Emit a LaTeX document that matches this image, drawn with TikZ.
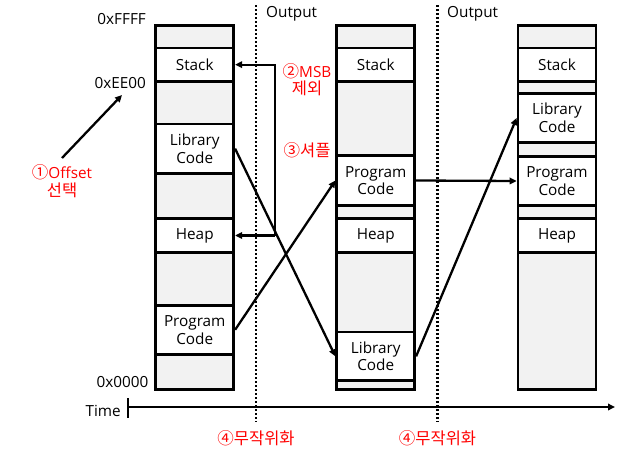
\documentclass[tikz,border=0pt]{standalone}
\usepackage{fontspec}
\setmainfont{Open Sans}
\newfontfamily\kr{Noto Sans CJK KR}
\newcommand{\krs}[1]{{\kr\fontsize{16.5}{17.5}\selectfont #1}}
\usetikzlibrary{arrows.meta}
\definecolor{cellgray}{HTML}{F2F2F2}
\definecolor{labred}{HTML}{FF0000}
\begin{document}
\begin{tikzpicture}[x=1pt,y=-1pt,
  colbox/.style={draw=black, line width=2.7pt, fill=cellgray},
  cell/.style={draw=black, line width=2.7pt, fill=white, inner sep=0pt,
    minimum width=78pt, align=center, font=\fontsize{15.3}{17.7}\selectfont},
  lbl/.style={font=\fontsize{15.3}{17.7}\selectfont, inner sep=0pt},
  redlbl/.style={text=labred, align=center, inner sep=0pt, font=\fontsize{15.3}{17.5}\selectfont},
  arr/.style={line width=2.3pt, -{Triangle[length=7pt,width=6.5pt]}},
  conn/.style={line width=2.3pt},
  dotline/.style={line width=2.3pt, dash pattern=on 2pt off 2pt}
]
\useasboundingbox (0,0) rectangle (622,450);

% dotted separators
\draw[dotline] (256,5) -- (256,422);
\draw[dotline] (437.5,5) -- (437.5,422);
\node[lbl, anchor=base west] (out1) at (266,17.3) {Output};
\node[lbl, anchor=base west] (out2) at (447,17.3) {Output};

% column 1
\draw[colbox] (155.75,25.3) rectangle (233.75,389.7);
\node[cell, minimum height=33.3pt] (stack1) at (194.75,64.65) {Stack};
\node[cell, minimum height=49.3pt] (lib1) at (194.75,148.65) {Library\\Code};
\node[cell, minimum height=33.6pt] (heap1) at (194.75,235.5) {Heap};
\node[cell, minimum height=49pt] (prog1) at (194.75,329.8) {Program\\Code};

% column 2
\draw[colbox] (336.75,25.3) rectangle (414.75,389.7);
\node[cell, minimum height=33.3pt] (stack2) at (375.75,64.65) {Stack};
\node[cell, minimum height=49.6pt] (prog2) at (375.75,180.5) {Program\\Code};
\node[cell, minimum height=33.6pt] (heap2) at (375.75,235.5) {Heap};
\node[cell, minimum height=48.7pt] (lib2) at (375.75,356.35) {Library\\Code};

% column 3
\draw[colbox] (518,25.3) rectangle (596,389.7);
\node[cell, minimum height=33.3pt] (stack3) at (557,64.65) {Stack};
\node[cell, minimum height=48.6pt] (lib3) at (557,118) {Library\\Code};
\node[cell, minimum height=48.6pt] (prog3) at (557,181) {Program\\Code};
\node[cell, minimum height=33.6pt] (heap3) at (557,235.5) {Heap};

% address labels
\node[lbl, anchor=base east] (aFFFF) at (146,24) {0xFFFF};
\node[lbl, anchor=base east] (aEE00) at (146,88) {0xEE00};
\node[lbl, anchor=base east] (a0000) at (148.5,387) {0x0000};

% red annotations
\node[redlbl] (offset) at (62,181) {\krs{①}Offset\\\krs{선택}};
\node[redlbl] (msb) at (307,79.5) {\krs{②}MSB\\\krs{제외}};
\node[redlbl] (shuf) at (307,150) {\krs{③셔플}};
\node[redlbl] (rand1) at (256,438) {\krs{④무작위화}};
\node[redlbl] (rand2) at (437.5,438) {\krs{④무작위화}};

% offset arrow
\coordinate (offA) at (62,158);
\coordinate (offB) at (122,95);
\draw[arr] (offA) -- (offB);

% MSB bracket
\coordinate (bk) at (275,235.5);
\draw[arr] (bk) |- (stack1.east);
\draw[arr] (bk) -- (heap1.east);

% shuffle arrows
\draw[arr] (lib1.east) -- (lib2.west);
\draw[arr] (prog1.east) -- (prog2.west);
\draw[arr] (prog2.east) -- (prog3.west);
\draw[arr] (lib2.east) -- (lib3.west);

% time axis
\node[lbl, anchor=base east] (time) at (121,416) {Time};
\coordinate (t0) at (128,407);
\coordinate (t1) at (615,407);
\coordinate (tTop) at (128,398);
\coordinate (tBot) at (128,418);
\draw[conn] (tTop) -- (tBot);
\draw[arr] (t0) -- (t1);
\end{tikzpicture}
\end{document}
